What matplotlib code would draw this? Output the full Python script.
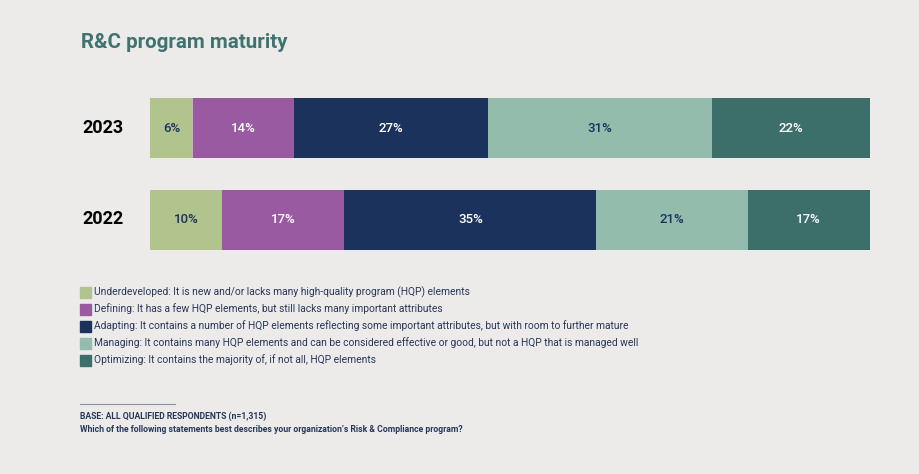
import matplotlib.pyplot as plt
from matplotlib.patches import Rectangle

# data ---------------------------------------------------------------
years = ["2023", "2022"]
categories = ["Underdeveloped", "Defining", "Adapting", "Managing", "Optimizing"]
values_2023 = [6, 14, 27, 31, 22]
values_2022 = [10, 17, 35, 21, 17]
descriptions = [
    "Underdeveloped: It is new and/or lacks many high-quality program (HQP) elements",
    "Defining: It has a few HQP elements, but still lacks many important attributes",
    "Adapting: It contains a number of HQP elements reflecting some important attributes, but with room to further mature",
    "Managing: It contains many HQP elements and can be considered effective or good, but not a HQP that is managed well",
    "Optimizing: It contains the majority of, if not all, HQP elements",
]

colors = ["#b2c48e", "#995aa2", "#1b325c", "#93bcad", "#3c6e6a"]
label_colors = ["#1b325c", "white", "white", "#1b325c", "white"]
bg = "#ecebe9"
navy = "#27375a"

plt.rcParams['font.family'] = ['Roboto', 'DejaVu Sans']

W, H = 919, 474
fig = plt.figure(figsize=(W / 100, H / 100), dpi=100, facecolor=bg)

# bar area (pixel coords from the top left)
x0, x1 = 150, 870
y_top, y_bot = 98, 250
ax = fig.add_axes([x0 / W, 1 - y_bot / H, (x1 - x0) / W, (y_bot - y_top) / H])
ax.set_facecolor(bg)
bar_h = 0.656
rows = [values_2023, values_2022]
for i, vals in enumerate(rows):
    left = 0
    for v, c, tc in zip(vals, colors, label_colors):
        ax.barh(i, v, left=left, height=bar_h, color=c, edgecolor='none')
        ax.text(left + v / 2, i, f"{v}%", ha='center', va='center',
                fontsize=9.5, color=tc, fontweight='medium')
        left += v
ax.set_xlim(0, 100)
ax.set_ylim(1 + bar_h / 2, -bar_h / 2)
ax.axis('off')

# year labels
for i, yr in enumerate(years):
    yc = 128 + i * 91.5
    fig.text(82 / W, 1 - yc / H, yr, ha='left', va='center',
             fontsize=13, fontweight='bold', color='black')

# title
fig.text(81 / W, 1 - 43 / H, "R&C program maturity", ha='left', va='center',
         fontsize=14.8, fontweight='bold', color='#3e7470')

# legend
for k, (c, d) in enumerate(zip(colors, descriptions)):
    yc = 292 + k * 17
    fig.patches.append(Rectangle((80 / W, 1 - (yc + 5.5) / H), 11 / W, 11 / H,
                                 transform=fig.transFigure, color=c))
    fig.text(94 / W, 1 - yc / H, d, ha='left', va='center',
             fontsize=7.35, color=navy)

# footnote
fig.add_artist(plt.Line2D([80 / W, 175 / W], [1 - 404 / H, 1 - 404 / H],
                          transform=fig.transFigure, color='#8a93a6', lw=0.8))
fig.text(80 / W, 1 - 416 / H, "BASE: ALL QUALIFIED RESPONDENTS (n=1,315)",
         ha='left', va='center', fontsize=6.2, fontweight='bold', color=navy)
fig.text(80 / W, 1 - 429 / H,
         "Which of the following statements best describes your organization\u2019s Risk & Compliance program?",
         ha='left', va='center', fontsize=6.2, fontweight='bold', color=navy)

fig.savefig("out.png", dpi=100, facecolor=bg)
